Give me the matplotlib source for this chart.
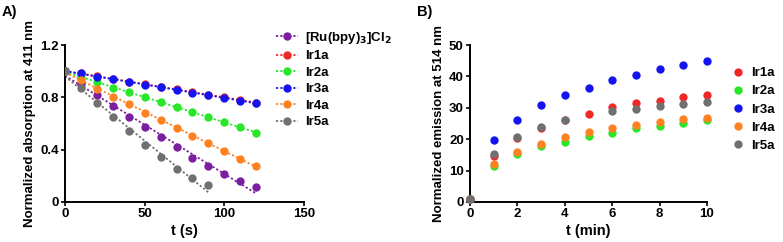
import numpy as np
import matplotlib
matplotlib.use("Agg")
import matplotlib.pyplot as plt

plt.rcParams['font.family'] = ['Liberation Sans', 'DejaVu Sans']
plt.rcParams['font.weight'] = 'bold'

# Panel A data
tA = [0, 10, 20, 30, 40, 50, 60, 70, 80, 90, 100, 110, 120]
ru = [1.0, 0.905, 0.82, 0.735, 0.653, 0.572, 0.496, 0.417, 0.336, 0.272, 0.214, 0.158, 0.114]
ir1a_A = [1.0, 0.985, 0.96, 0.94, 0.92, 0.90, 0.88, 0.86, 0.84, 0.82, 0.80, 0.78, 0.76]
ir2a_A = [1.0, 0.955, 0.915, 0.875, 0.839, 0.80, 0.763, 0.725, 0.686, 0.648, 0.61, 0.572, 0.531]
ir3a_A = [1.0, 0.984, 0.958, 0.938, 0.918, 0.898, 0.877, 0.857, 0.836, 0.816, 0.798, 0.775, 0.753]
ir4a_A = [1.0, 0.933, 0.867, 0.806, 0.748, 0.684, 0.625, 0.567, 0.506, 0.45, 0.389, 0.328, 0.277]
tA5 = [0, 10, 20, 30, 40, 50, 60, 70, 80, 90]
ir5a_A = [1.0, 0.875, 0.76, 0.648, 0.544, 0.437, 0.343, 0.254, 0.183, 0.127]

# Panel B data
tB = [0, 1, 2, 3, 4, 5, 6, 7, 8, 9, 10]
ir1a_B = [1.0, 14.8, 20.5, 23.5, 26.1, 28.1, 30.2, 31.4, 32.3, 33.3, 34.0]
ir2a_B = [1.0, 11.4, 15.3, 17.7, 19.2, 20.9, 21.9, 23.5, 24.3, 25.3, 26.2]
ir3a_B = [1.0, 19.6, 26.2, 30.8, 34.1, 36.4, 39.0, 40.5, 42.3, 43.6, 44.9]
ir4a_B = [1.0, 12.0, 15.9, 18.5, 20.7, 22.2, 23.7, 24.5, 25.4, 26.4, 26.9]
ir5a_B = [1.0, 15.3, 20.7, 23.8, 26.0, np.nan, 28.9, 29.6, 30.6, 31.3, 31.8]

labelsA = ['[Ru(bpy)$_3$]Cl$_2$', 'Ir1a', 'Ir2a', 'Ir3a', 'Ir4a', 'Ir5a']
labelsB = ['Ir1a', 'Ir2a', 'Ir3a', 'Ir4a', 'Ir5a']
colors = {'Ru': '#7a1fa0', 'Ir1a': '#f02828', 'Ir2a': '#28e628',
          'Ir3a': '#1414f0', 'Ir4a': '#ff8222', 'Ir5a': '#707070'}

W, H = 783, 242
fig = plt.figure(figsize=(W / 100, H / 100), dpi=100)
MS = 6

def style(ax):
    for s in ['top', 'right']:
        ax.spines[s].set_visible(False)
    for s in ['left', 'bottom']:
        ax.spines[s].set_linewidth(1.4)
    ax.tick_params(width=1.2, length=3, labelsize=9.5, pad=1.5)
    for lab in ax.get_xticklabels() + ax.get_yticklabels():
        lab.set_fontweight('bold')

axA = fig.add_axes([65 / W, 1 - 202 / H, (304 - 65) / W, (202 - 45) / H])
seriesA = [(tA, ru, 'Ru'), (tA, ir1a_A, 'Ir1a'), (tA, ir2a_A, 'Ir2a'),
           (tA, ir3a_A, 'Ir3a'), (tA, ir4a_A, 'Ir4a'), (tA5, ir5a_A, 'Ir5a')]
handles = []
for (t, y, key), lab in zip(seriesA, labelsA):
    c = colors[key]
    t = np.array(t); y = np.array(y)
    p = np.polyfit(t, y, 1)
    tt = np.array([0, t.max()])
    axA.plot(tt, np.polyval(p, tt), ls=(0, (1.2, 1.2)), color=c, lw=1.3, zorder=2)
    axA.plot(t, y, 'o', color=c, ms=MS, mec='none', zorder=3)
    h, = axA.plot([], [], ls=(0, (1.2, 1.2)), color=c, lw=1.3, marker='o', ms=MS, mec='none', label=lab)
    handles.append(h)
axA.set_xlim(0, 150)
axA.set_ylim(0, 1.2)
axA.set_xticks([0, 50, 100, 150])
axA.set_yticks([0, 0.4, 0.8, 1.2])
axA.set_yticklabels(['0', '0.4', '0.8', '1.2'])
axA.set_xlabel('t (s)', fontsize=10.5, fontweight='bold', labelpad=3)
axA.set_ylabel('Normalized absorption at 411 nm', fontsize=9.5, fontweight='bold', labelpad=3)
style(axA)
axA.legend(handles=handles, loc='upper left', bbox_to_anchor=(276 / W, 1 - 30 / H),
           bbox_transform=fig.transFigure, frameon=False,
           handlelength=1.7, handletextpad=0.5, labelspacing=0.32, borderaxespad=0,
           borderpad=0, prop={'weight': 'bold', 'size': 9.5})

axB = fig.add_axes([470 / W, 1 - 202 / H, (707 - 470) / W, (202 - 45) / H])
seriesB = [(ir1a_B, 'Ir1a'), (ir2a_B, 'Ir2a'), (ir3a_B, 'Ir3a'), (ir4a_B, 'Ir4a'), (ir5a_B, 'Ir5a')]
for (y, key), lab in zip(seriesB, labelsB):
    axB.plot(tB, y, 'o', color=colors[key], ms=MS, mec='none', label=lab, clip_on=False, zorder=3)
axB.set_xlim(0, 10)
axB.set_ylim(0, 50)
axB.set_xticks([0, 2, 4, 6, 8, 10])
axB.set_yticks([0, 10, 20, 30, 40, 50])
axB.set_xlabel('t (min)', fontsize=10.5, fontweight='bold', labelpad=3)
axB.set_ylabel('Normalized emission at 514 nm', fontsize=9.5, fontweight='bold', labelpad=3)
style(axB)
axB.legend(loc='upper left', bbox_to_anchor=(731 / W, 1 - 67 / H),
           bbox_transform=fig.transFigure, frameon=False,
           handlelength=1.0, handletextpad=0.5, labelspacing=0.45, borderaxespad=0,
           borderpad=0, prop={'weight': 'bold', 'size': 9.5})

fig.text(2 / W, 1 - 12 / H, 'A)', fontsize=10.5, fontweight='bold', va='center', ha='left')
fig.text(417 / W, 1 - 12 / H, 'B)', fontsize=10.5, fontweight='bold', va='center', ha='left')

fig.savefig('out.png', dpi=100)
